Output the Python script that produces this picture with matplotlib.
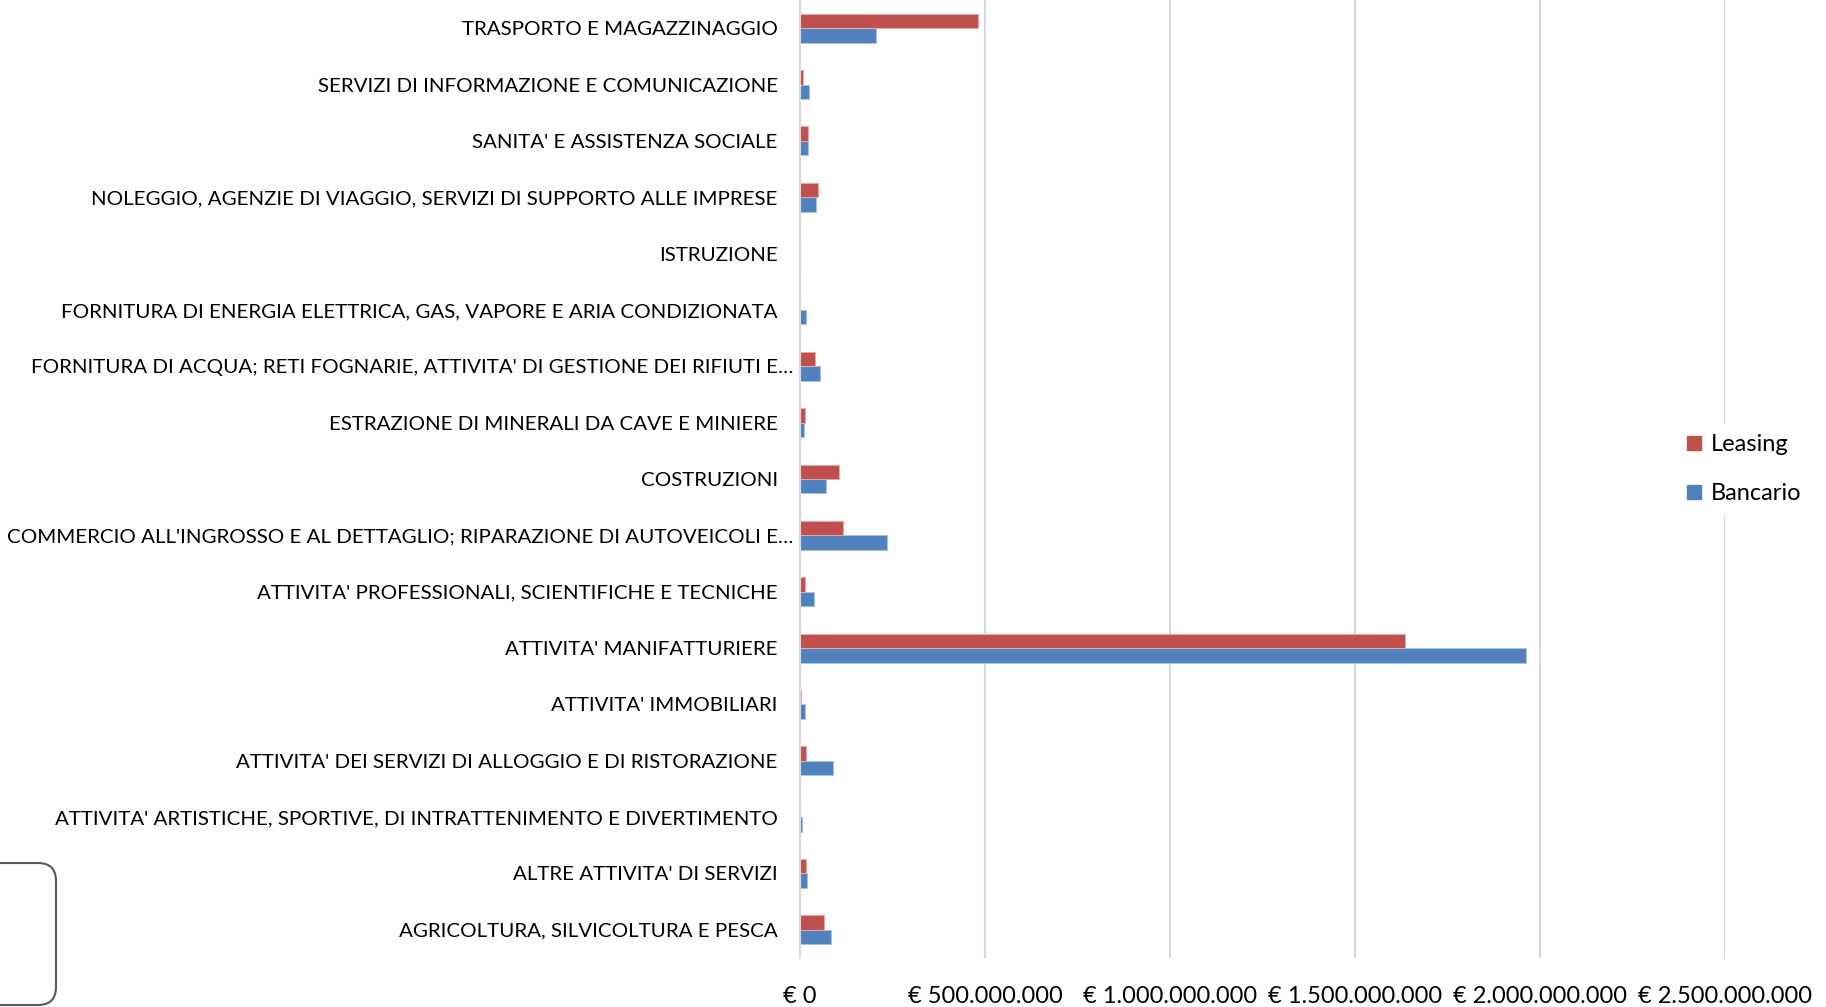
import matplotlib
matplotlib.use("Agg")
import matplotlib.pyplot as plt
import numpy as np
from matplotlib.patches import FancyBboxPatch
from matplotlib.transforms import IdentityTransform, ScaledTranslation
from matplotlib.lines import Line2D
from matplotlib.ticker import FuncFormatter

plt.rcParams['font.family'] = ['Lato', 'DejaVu Sans']

# Categories, bottom to top
categories = [
    "AGRICOLTURA, SILVICOLTURA E PESCA",
    "ALTRE ATTIVITA' DI SERVIZI",
    "ATTIVITA' ARTISTICHE, SPORTIVE, DI INTRATTENIMENTO E DIVERTIMENTO",
    "ATTIVITA' DEI SERVIZI DI ALLOGGIO E DI RISTORAZIONE",
    "ATTIVITA' IMMOBILIARI",
    "ATTIVITA' MANIFATTURIERE",
    "ATTIVITA' PROFESSIONALI, SCIENTIFICHE E TECNICHE",
    "COMMERCIO ALL'INGROSSO E AL DETTAGLIO; RIPARAZIONE DI AUTOVEICOLI E…",
    "COSTRUZIONI",
    "ESTRAZIONE DI MINERALI DA CAVE E MINIERE",
    "FORNITURA DI ACQUA; RETI FOGNARIE, ATTIVITA' DI GESTIONE DEI RIFIUTI E…",
    "FORNITURA DI ENERGIA ELETTRICA, GAS, VAPORE E ARIA CONDIZIONATA",
    "ISTRUZIONE",
    "NOLEGGIO, AGENZIE DI VIAGGIO, SERVIZI DI SUPPORTO ALLE IMPRESE",
    "SANITA' E ASSISTENZA SOCIALE",
    "SERVIZI DI INFORMAZIONE E COMUNICAZIONE",
    "TRASPORTO E MAGAZZINAGGIO",
]

# Values in euro
leasing = [65e6, 16e6, 0, 15e6, 2e6, 1635e6, 14e6, 116e6, 105e6, 13e6,
           41e6, 0, 0, 49e6, 21e6, 7e6, 482e6]
bancario = [85e6, 19e6, 6e6, 88e6, 13e6, 1962e6, 38e6, 234e6, 71e6, 10e6,
            55e6, 16e6, 0, 44e6, 22e6, 23e6, 205e6]

xticks = [0, 500e6, 1000e6, 1500e6, 2000e6, 2500e6]

RED = "#C0504D"
BLUE = "#4F81BD"

fig = plt.figure(figsize=(18.26, 10.07), dpi=100)
ax = fig.add_axes([800/1826, 1-958/1007, 925/1826, 958/1007])

y = np.arange(len(categories))
h = 0.257
ax.barh(y - h/2, bancario, height=h, color=BLUE, edgecolor="#A7C0DE", linewidth=0.8, zorder=3)
ax.barh(y + h/2, leasing, height=h, color=RED, edgecolor="#E0A8A6", linewidth=0.8, zorder=3)

ax.set_ylim(-0.5, len(categories) - 0.5)
ax.set_xlim(0, 2500e6)
ax.set_xticks(xticks)

def fmt(v, pos):
    if v == 0:
        return "€ 0"
    return "€ " + f"{int(round(v)):,}".replace(",", ".")
ax.xaxis.set_major_formatter(FuncFormatter(fmt))

ax.set_yticks(y)
ax.set_yticklabels(categories, fontsize=14.75, color="#000000")
ax.tick_params(axis='y', length=0, pad=16)
ax.tick_params(axis='x', length=0, pad=20, labelsize=17)

for lab in ax.get_yticklabels():
    if lab.get_text().endswith("…"):
        lab.set_transform(lab.get_transform() + ScaledTranslation(16/100, 0, fig.dpi_scale_trans))

ax.grid(axis='x', color="#D9D9D9", linewidth=1.5, zorder=0)
ax.grid(axis='y', visible=False)
for s in ["top", "right", "bottom"]:
    ax.spines[s].set_visible(False)
ax.spines["left"].set_color("#D9D9D9")
ax.spines["left"].set_linewidth(1.5)
ax.spines["left"].set_zorder(4)

handles = [Line2D([], [], marker='s', linestyle='none', markersize=10.5, color=RED, label="Leasing"),
           Line2D([], [], marker='s', linestyle='none', markersize=10.5, color=BLUE, label="Bancario")]
leg = fig.legend(handles=handles, loc='center left', bbox_to_anchor=(1675/1826, 1-469/1007),
                 frameon=True, fontsize=17, handlelength=0.8, handletextpad=0.3,
                 labelspacing=1.2, borderpad=0.4, borderaxespad=0)
leg.get_frame().set_edgecolor('white')
leg.get_frame().set_facecolor('white')
leg.get_frame().set_alpha(1)
leg.set_zorder(10)

box = FancyBboxPatch((-30, 2), 86, 142, boxstyle="round,pad=0,rounding_size=18",
                     transform=IdentityTransform(), facecolor='none', edgecolor="#595959",
                     linewidth=1.5)
fig.patches.append(box)

fig.savefig("out.png", dpi=100, facecolor='white')
